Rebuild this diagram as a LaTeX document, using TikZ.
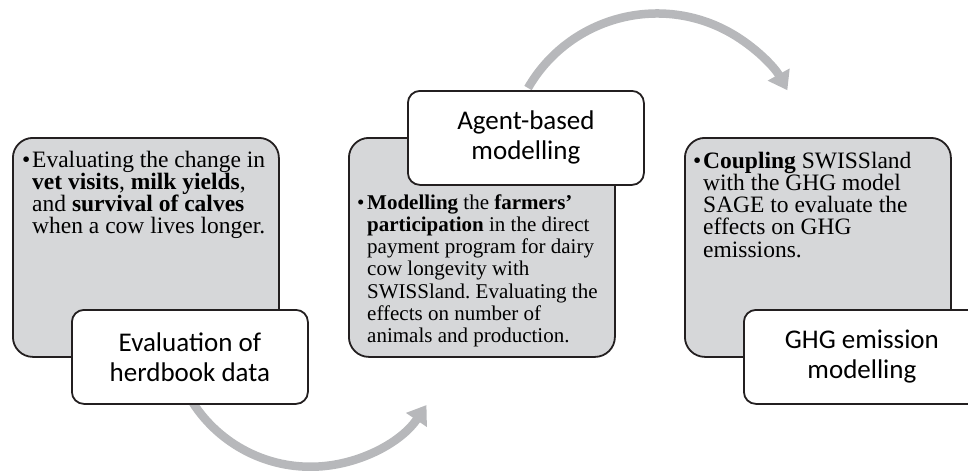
\documentclass[tikz,border=0pt]{standalone}
\usepackage{fontspec}
\setmainfont{Liberation Serif}
\newfontfamily\labelfont{Carlito}
\usetikzlibrary{arrows.meta}
\definecolor{panelgray}{RGB}{214,215,217}
\definecolor{arrowgray}{RGB}{183,184,187}
\definecolor{edgeink}{RGB}{35,31,32}
\newcommand{\bul}{\makebox[10pt][l]{•}}
\frenchspacing

\begin{document}
\begin{tikzpicture}[x=1pt,y=-1pt,
  panel/.style={draw=edgeink, line width=1.8pt, fill=panelgray, rounded corners=20pt,
    minimum width=266pt, minimum height=219pt, inner sep=0pt, anchor=north west},
  tag/.style={draw=edgeink, line width=1.8pt, fill=white, rounded corners=12pt,
    minimum width=236pt, minimum height=94pt, inner sep=0pt, anchor=north west,
    font=\labelfont\fontsize{27}{30}\selectfont, align=center},
  body/.style={anchor=base west, inner sep=0pt, font=\fontsize{23.5}{22.3}\selectfont},
  flow/.style={draw=arrowgray, line width=8.5pt, -{Triangle[length=18pt,width=24pt]}}
]
\useasboundingbox (0,0) rectangle (968,472);

% curved process arrows (drawn first, so the boxes cover their tails)
\coordinate (a1) at (193,403);
\coordinate (a2) at (528,88);
\draw[flow] (a1) arc[start angle=147, end angle=34, radius=140];
\draw[flow] (a2) arc[start angle=210, end angle=331, radius=149];

% grey description panels
\node[panel] (p1) at (12,137) {};
\node[panel] (p2) at (348,137) {};
\node[panel] (p3) at (684,137) {};

% description texts
\node[body] (t1) at (22,167) {\bul\parbox[t]{250pt}{%
  Evaluating the change in\\
  \textbf{vet visits}, \textbf{milk yields},\\
  and \textbf{survival of calves}\\
  when a cow lives longer.}};
\node[body, font=\fontsize{21}{22.3}\selectfont] (t2) at (357,209) {\bul\parbox[t]{250pt}{%
  \textbf{Modelling} the \textbf{farmers’}\\
  \textbf{participation} in the direct\\
  payment program for dairy\\
  cow longevity with\\
  SWISSland. Evaluating the\\
  effects on number of\\
  animals and production.}};
\node[body] (t3) at (693,168) {\bul\parbox[t]{250pt}{%
  \textbf{Coupling} SWISSland\\
  with the GHG model\\
  SAGE to evaluate the\\
  effects on GHG\\
  emissions.}};

% white step labels
\node[tag] (l1) at (71,309) {Evaluation of\\herdbook data};
\node[tag] (l2) at (407,90) {Agent-based\\modelling};
\node[tag] (l3) at (743,309) {GHG emission\\modelling};
\end{tikzpicture}
\end{document}
